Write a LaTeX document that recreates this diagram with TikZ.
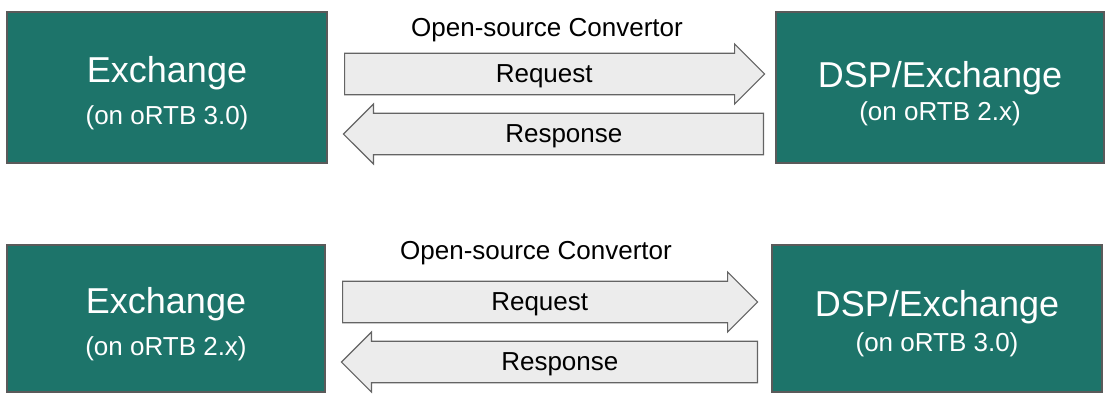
\documentclass[tikz,border=0pt]{standalone}
\usepackage{fontspec}
\setmainfont{Liberation Sans}
\usetikzlibrary{shapes.arrows}
\definecolor{boxteal}{RGB}{29,116,106}
\definecolor{boxline}{RGB}{90,90,90}
\definecolor{arrowfill}{RGB}{236,236,236}
\definecolor{arrowline}{RGB}{100,100,100}
\newcommand{\titlesize}{\fontsize{36}{40}\selectfont}
\newcommand{\subsize}{\fontsize{26}{30}\selectfont}
\newcommand{\boxstrut}{\rule{0pt}{38pt}}
\tikzstyle{system} = [rectangle, draw=boxline, fill=boxteal, text=white, align=center, line width=1.2pt, inner sep=0pt]
\tikzstyle{flow} = [single arrow, draw=arrowline, fill=arrowfill, line width=1.2pt, inner xsep=0pt, inner ysep=0pt, text height=24pt, text depth=7pt, minimum width=60pt, font=\subsize]

\begin{document}
\begin{tikzpicture}[x=1pt, y=-1pt]
\useasboundingbox (0,0) rectangle (1113,402);

% upper pair: 3.0 exchange to 2.x bidder
\node (ex1) [system, minimum width=320pt, minimum height=151pt] at (167,87.5)
  {{\titlesize\boxstrut Exchange}\\[15pt]{\subsize (on oRTB 3.0)}};
\node (dsp1) [system, minimum width=328pt, minimum height=151pt] at (940,87.5)
  {{\titlesize\boxstrut DSP/Exchange}\\[6pt]{\subsize (on oRTB 2.x)}};

\node (req1) [flow, minimum height=420pt, anchor=tail] at (344,74) {Request};
\node (res1) [flow, minimum height=420pt, shape border rotate=180, anchor=tail] at (764,134) {Response};
\node (conv1) [font=\subsize, inner sep=0pt] at (547,30) {Open-source Convertor};

% lower pair: 2.x exchange to 3.0 bidder
\node (ex2) [system, minimum width=318pt, minimum height=147pt] at (166,318.5)
  {{\titlesize\boxstrut Exchange}\\[15pt]{\subsize (on oRTB 2.x)}};
\node (dsp2) [system, minimum width=330pt, minimum height=147pt] at (937,318.5)
  {{\titlesize\rule{0pt}{36pt}DSP/Exchange}\\[8pt]{\subsize (on oRTB 3.0)}};

\node (req2) [flow, minimum height=415pt, anchor=tail] at (342,302) {Request};
\node (res2) [flow, minimum height=416pt, shape border rotate=180, anchor=tail] at (758,362) {Response};
\node (conv2) [font=\subsize, inner sep=0pt] at (536,253) {Open-source Convertor};

\end{tikzpicture}
\end{document}
